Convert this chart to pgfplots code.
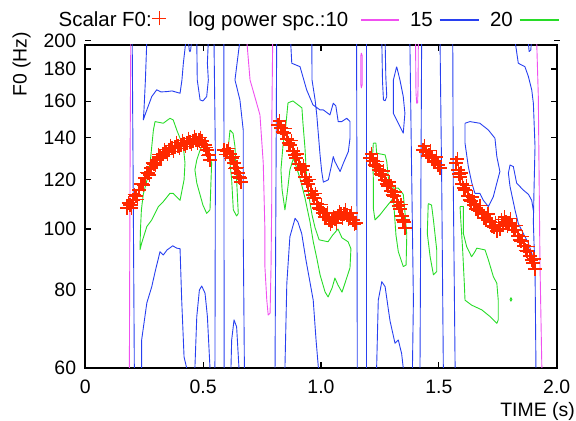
\documentclass[border=0pt]{standalone}
\usepackage{fontspec}
\setmainfont{Liberation Sans}
\usepackage{pgfplots}
\pgfplotsset{compat=1.18}

\definecolor{cmag}{RGB}{240,80,240}
\definecolor{cblue}{RGB}{40,64,240}
\definecolor{cgreen}{RGB}{40,220,40}
\definecolor{fzred}{RGB}{255,40,0}

\pgfplotsset{
  mag/.style={forget plot, cmag, line width=0.9bp, line join=round, mark=none},
  blu/.style={forget plot, cblue, line width=0.9bp, line join=round, mark=none},
  grn/.style={forget plot, cgreen, line width=0.9bp, line join=round, mark=none},
}

\begin{document}
\begin{tikzpicture}
\path[use as bounding box] (-85.3bp,-53bp) rectangle (490.7bp,368bp);
\begin{axis}[
  name=ax, at={(0,0)}, anchor=south west,
  scale only axis, width=471.4bp, height=323bp,
  xmin=0, xmax=2, ymode=log, ymin=60, ymax=196.7,
  xtick={0,0.5,1,1.5,2}, xticklabels={0,0.5,1.0,1.5,2.0},
  ytick={60,80,100,120,140,160,180}, yticklabels={60,80,100,120,140,160,180},
  xminorticks=false, yminorticks=false,
  tick align=inside, major tick length=6bp,
  tick style={black, line width=1.2bp},
  axis line style={line width=1.6bp},
  ticklabel style={font=\fontsize{19.5}{22}\selectfont, inner sep=0pt},
  xticklabel style={yshift=-12bp},
  yticklabel style={xshift=-9bp},
  xlabel={TIME (s)}, ylabel={F0 (Hz)},
  every axis x label/.style={at={(axis description cs:1,0)}, anchor=north east, xshift=18.3bp, yshift=-34bp, inner sep=0pt, font=\fontsize{19.5}{22}\selectfont},
  every axis y label/.style={at={(axis description cs:0,0.839)}, xshift=-58.6bp, rotate=90, anchor=base west, inner sep=0pt, font=\fontsize{19.5}{22}\selectfont},
]

% log power 10
\addplot[mag] coordinates {(0.193,200) (0.190,130) (0.187,60)};
\addplot[mag] coordinates {(0.685,200) (0.699,172.9) (0.727,158.8) (0.741,152.1) (0.755,127.4) (0.762,99.7) (0.762,87.1) (0.770,77.0) (0.776,72.9) (0.784,73.4) (0.788,87.1) (0.791,111.1) (0.791,143.9) (0.795,200)};
\addplot[mag] coordinates {(1.171,191) (1.175,189) (1.175,170) (1.171,168) (1.169,170) (1.169,189) (1.171,191)};
\addplot[mag] coordinates {(1.401,200) (1.403,165) (1.406,158.8) (1.410,159) (1.412,170) (1.413,200)};
\addplot[mag] coordinates {(1.915,200) (1.922,162.7) (1.929,88.2) (1.937,60)};

% log power 15
\addplot[blu] coordinates {(0.199,200) (0.203,120) (0.208,60)};
\addplot[blu] coordinates {(0.261,200) (0.255,172.9) (0.249,154.9) (0.246,149.3) (0.258,153.8) (0.282,162.7) (0.303,166.8) (0.321,165.5) (0.345,165.7) (0.368,166.1) (0.402,164.7) (0.410,172.9) (0.416,183.9) (0.427,200)};
\addplot[blu] coordinates {(0.437,200) (0.441,193) (0.444,191.9) (0.447,193) (0.451,200)};
\addplot[blu] coordinates {(0.473,200) (0.475,172.9) (0.487,160.7) (0.499,160.1) (0.515,162.7) (0.522,172.9) (0.518,183.9) (0.522,200)};
\addplot[blu] coordinates {(0.546,200) (0.552,130) (0.550,60)};
\addplot[blu] coordinates {(0.588,200) (0.589,60)};
\addplot[blu] coordinates {(0.656,200) (0.635,172.9) (0.642,168.8) (0.656,160.7) (0.670,143.9) (0.670,99.7) (0.675,60)};
\addplot[blu] coordinates {(0.618,60) (0.621,66.5) (0.631,71.6) (0.642,69.8) (0.652,60)};
\addplot[blu] coordinates {(0.465,60) (0.473,72.5) (0.484,79.9) (0.494,81.1) (0.508,79.0) (0.518,72.5) (0.529,60)};
\addplot[blu] coordinates {(0.239,60) (0.239,66.5) (0.261,76.2) (0.282,80.9) (0.296,85.4) (0.317,92.0) (0.331,90.9) (0.347,92.6) (0.371,94.0) (0.388,93.2) (0.402,93.0) (0.409,77.0) (0.419,62.5) (0.430,60)};
\addplot[blu] coordinates {(0.812,200) (0.805,60)};
\addplot[blu] coordinates {(0.871,200) (0.876,183.9) (0.911,181.6) (0.939,166.8) (0.966,157.8) (0.996,154.9) (1.010,154.9) (1.038,152.1) (1.052,158.8) (1.063,157.2) (1.073,148.4) (1.088,148.4) (1.109,150.2) (1.123,148.4) (1.123,139.6) (1.116,132.9) (1.095,127.4) (1.081,123.5) (1.059,128.1) (1.052,130.5) (1.045,126.5) (1.031,119.8) (1.010,118.8) (1.003,123.5) (0.996,131.3) (0.989,141.3) (0.982,152.1) (0.975,160.7) (0.962,172.9) (0.961,200)};
\addplot[blu] coordinates {(1.151,200) (1.154,60)};
\addplot[blu] coordinates {(1.194,200) (1.194,60)};
\addplot[blu] coordinates {(0.847,60) (0.855,81.9) (0.868,97.2) (0.890,104.0) (0.902,102.6) (0.918,98.4) (0.936,89.3) (0.967,77.0) (0.979,66.5) (0.989,60)};
\addplot[blu] coordinates {(1.258,200) (1.261,172) (1.265,160.7) (1.272,160.2) (1.279,162.7) (1.275,175) (1.272,200)};
\addplot[blu] coordinates {(1.321,181.6) (1.307,172.9) (1.307,153.0) (1.335,145.7) (1.349,142.2) (1.356,153.0) (1.349,162.7) (1.335,172.9) (1.321,181.6)};
\addplot[blu] coordinates {(1.236,60) (1.243,77.0) (1.258,82.4) (1.272,80.9) (1.286,74.3) (1.293,71.3) (1.314,65.7) (1.328,66.5) (1.342,63.3) (1.349,60)};
\addplot[blu] coordinates {(1.377,200) (1.385,120) (1.392,77) (1.388,60)};
\addplot[blu] coordinates {(1.427,200) (1.420,60)};
\addplot[blu] coordinates {(1.505,200) (1.512,120) (1.519,60)};
\addplot[blu] coordinates {(1.559,200) (1.561,120) (1.569,60)};
\addplot[blu] coordinates {(1.611,147.5) (1.632,148.4) (1.674,147.5) (1.710,143.9) (1.738,139.6) (1.746,130.5) (1.759,123.5) (1.746,118.4) (1.731,112.6) (1.710,108.6) (1.689,111.1) (1.674,114.0) (1.653,114.0) (1.640,118.4) (1.625,125.8) (1.611,137.1) (1.611,147.5)};
\addplot[blu] coordinates {(1.823,200) (1.837,183.9) (1.865,181.6) (1.880,175.1) (1.894,166.8) (1.901,158.8) (1.908,135.4) (1.904,116.7) (1.901,102.6) (1.904,94.3) (1.908,87.0) (1.912,60)};
\addplot[blu] coordinates {(1.901,107) (1.894,111.1) (1.880,113.6) (1.858,115.4) (1.830,118.4) (1.816,125.8) (1.802,126.5) (1.795,122.8) (1.802,116.9) (1.823,107.3) (1.837,102.1) (1.858,98.4) (1.880,94.9) (1.894,91.5) (1.905,88.6)};
\addplot[blu] coordinates {(1.879,200) (1.883,192) (1.890,193) (1.893,200)};

% log power 20
\addplot[grn] coordinates {(0.232,92.6) (0.234,99.7) (0.238,107.3) (0.246,113.6) (0.262,119.8) (0.275,127.4) (0.289,143.9) (0.296,148.4) (0.331,147.5) (0.359,150.2) (0.373,149.3) (0.388,143.9) (0.416,135.4) (0.423,127.4) (0.419,119.8) (0.402,111.1) (0.373,114.0) (0.359,114.0) (0.331,110.6) (0.310,108.6) (0.282,103.4) (0.261,100.9) (0.239,94.9) (0.232,92.6)};
\addplot[grn] coordinates {(0.508,138.7) (0.536,127.4) (0.529,107.3) (0.515,105.9) (0.499,109.2) (0.473,118.4) (0.465,124.3) (0.473,128.9) (0.487,133.7) (0.508,138.7)};
\addplot[grn] coordinates {(0.614,143.9) (0.627,142.1) (0.635,135.4) (0.642,119.8) (0.649,105.9) (0.642,104.9) (0.628,107.3) (0.621,119.8) (0.607,135.4) (0.614,143.9)};
\addplot[grn] coordinates {(0.860,159.0) (0.881,160.1) (0.919,156.1) (0.923,148.2) (0.932,134.7) (0.939,120.6) (0.949,112.5) (0.962,105.3) (0.975,100.4) (0.992,96.1) (1.030,95.4) (1.047,97.5) (1.072,100.0) (1.089,96.8) (1.115,95.4) (1.127,93.0) (1.123,86.7) (1.102,82.0) (1.089,79.3) (1.072,81.4) (1.059,83.5) (1.047,80.5) (1.030,77.9) (1.017,79.4) (0.996,84.5) (0.982,89.9) (0.967,95.5) (0.953,102.8) (0.932,112.1) (0.911,120.5) (0.883,129.7) (0.868,124.3) (0.856,113.6) (0.847,107.3) (0.835,115.4) (0.830,124.3) (0.839,136.2) (0.851,146.6) (0.860,159.0)};
\addplot[grn] coordinates {(1.222,137.1) (1.233,137.1) (1.236,132.1) (1.272,131.3) (1.279,128.1) (1.286,120.5) (1.307,116.2) (1.328,116.2) (1.349,113.6) (1.356,106.6) (1.364,97.8) (1.361,87.6) (1.349,87.1) (1.328,92.0) (1.318,97.8) (1.314,102.8) (1.307,112.0) (1.272,107.9) (1.250,105.3) (1.229,103.4) (1.222,107.9) (1.222,120.5) (1.219,131.3) (1.222,137.1)};
\addplot[grn] coordinates {(1.455,109.8) (1.469,109.2) (1.477,103.4) (1.491,92.6) (1.491,85.5) (1.477,84.5) (1.463,90.3) (1.451,98.4) (1.455,109.8)};
\addplot[grn] coordinates {(1.590,108.6) (1.604,108.6) (1.604,98.4) (1.618,93.7) (1.639,90.3) (1.653,92.0) (1.661,93.2) (1.696,92.6) (1.710,89.3) (1.731,84.0) (1.746,81.9) (1.752,77.0) (1.752,71.6) (1.746,70.7) (1.717,72.5) (1.682,74.3) (1.639,75.6) (1.611,77.0) (1.608,81.9) (1.601,92.6) (1.593,103.4) (1.590,108.6)};
\addplot[grn] coordinates {(1.802,77.2) (1.806,77.7) (1.810,77.2) (1.806,76.7) (1.802,77.2)};

% scalar F0
\addplot[forget plot, only marks, mark=+, mark size=6.8bp, fzred, mark options={line width=1.3bp}] coordinates {
(0.177,108.05) (0.183,110.0) (0.190,109.25) (0.196,108.0) (0.202,111.28) (0.208,113.5)
(0.215,112.93) (0.221,111.5) (0.228,115.45) (0.234,118.0) (0.241,118.02) (0.247,117.5)
(0.253,120.65) (0.259,123.0) (0.266,122.89) (0.272,122.0) (0.279,125.17) (0.285,127.5)
(0.291,127.03) (0.297,126.5) (0.304,128.91) (0.310,131.5) (0.317,130.34) (0.323,129.5)
(0.330,131.78) (0.336,134.0) (0.342,132.75) (0.348,131.5) (0.355,133.74) (0.361,136.0)
(0.368,134.72) (0.374,133.0) (0.381,135.23) (0.387,137.5) (0.393,135.72) (0.399,134.5)
(0.406,136.22) (0.412,138.5) (0.419,136.72) (0.425,135.5) (0.431,137.23) (0.437,139.5)
(0.444,137.73) (0.450,136.5) (0.457,138.23) (0.463,140.5) (0.470,138.75) (0.476,137.0)
(0.482,138.75) (0.488,140.0) (0.495,138.23) (0.501,136.0) (0.508,136.22) (0.512,135.0)
(0.516,133.74) (0.520,131.0) (0.525,131.30) (0.529,128.91)
(0.589,133.74) (0.595,131.5) (0.601,133.24) (0.607,134.5) (0.614,131.78) (0.618,129.5)
(0.622,129.86) (0.627,130.5) (0.631,127.5) (0.635,125.0) (0.639,125.17) (0.644,125.5)
(0.648,122.89) (0.652,121.0) (0.656,120.65) (0.661,118.89)
(0.818,146.61) (0.824,148.8) (0.830,145.00) (0.836,142.8) (0.843,142.36) (0.849,144.5)
(0.856,139.26) (0.862,137.2) (0.868,136.22) (0.874,138.3) (0.881,133.24) (0.887,131.2)
(0.894,129.86) (0.900,131.8) (0.907,127.03) (0.913,125.1) (0.919,124.26) (0.925,126.1)
(0.932,121.10) (0.938,119.3) (0.945,118.02) (0.951,119.8) (0.958,115.02) (0.964,113.3)
(0.970,112.10) (0.976,113.8) (0.983,109.66) (0.989,108.0) (0.996,107.65) (1.002,109.3)
(1.009,106.08) (1.015,104.5) (1.021,104.54) (1.027,106.1) (1.034,103.39) (1.040,101.8)
(1.047,103.0) (1.053,104.6) (1.059,103.77) (1.065,102.2) (1.072,104.92) (1.078,106.5)
(1.085,105.69) (1.091,104.1) (1.097,105.69) (1.103,107.3) (1.110,105.31) (1.116,103.7)
(1.123,104.54) (1.129,106.1) (1.136,103.39) (1.142,101.8) (1.148,102.26)
(1.208,129.86) (1.214,131.8) (1.221,128.43) (1.227,126.5) (1.233,126.09) (1.239,128.0)
(1.246,124.26) (1.252,122.4) (1.259,121.99) (1.265,123.8) (1.272,119.77) (1.278,118.0)
(1.284,117.15) (1.290,118.9) (1.297,115.02) (1.303,113.3) (1.310,112.93) (1.316,114.6)
(1.322,110.46) (1.328,108.8) (1.335,107.65) (1.340,109.3) (1.344,104.92) (1.348,103.4)
(1.352,102.63) (1.356,100.39)
(1.433,133.74) (1.439,135.7) (1.446,132.75) (1.452,130.8) (1.458,131.30) (1.464,133.3)
(1.471,129.86) (1.477,127.9) (1.484,128.43) (1.490,130.3) (1.497,126.56) (1.505,125.17)
(1.573,127.50) (1.578,129.4) (1.582,124.26) (1.586,122.4) (1.590,121.10) (1.594,122.9)
(1.599,118.02) (1.605,116.3) (1.611,115.45) (1.617,117.2) (1.624,112.93) (1.630,111.2)
(1.636,110.87) (1.642,112.5) (1.649,109.25) (1.657,107.6) (1.666,107.26) (1.674,108.9)
(1.683,105.69) (1.691,104.1) (1.700,104.15) (1.708,105.7) (1.717,102.63) (1.725,101.1)
(1.734,100.76) (1.740,102.3) (1.747,99.30) (1.753,101.5) (1.759,100.02) (1.765,103.5)
(1.772,101.52) (1.778,104.5) (1.785,102.63) (1.791,101.0) (1.798,102.26) (1.804,103.8)
(1.810,101.15) (1.816,99.6) (1.823,99.66) (1.829,101.2) (1.836,97.48) (1.842,96.0)
(1.849,95.73) (1.855,97.2) (1.861,93.96) (1.867,92.5) (1.874,92.27) (1.880,93.7)
(1.887,90.57) (1.893,89.2) (1.900,88.26) (1.904,89.6) (1.908,86.34)
};
\end{axis}
% the 200 tick lies above the top of the frame
\draw[line width=1.2bp] ([yshift=4.5bp]ax.north west) -- ++(5.5bp,0);
\draw[line width=1.2bp] ([xshift=3bp,yshift=4.5bp]ax.north east) -- ++(-6bp,0);
\node[anchor=east, inner sep=0pt, font=\fontsize{19.5}{22}\selectfont] at ([xshift=-9bp,yshift=4.5bp]ax.north west) {200};
% key row above the frame
\begin{scope}[shift={(ax.north west)}, every node/.style={anchor=base west, inner sep=0pt, font=\fontsize{20.5}{24}\selectfont}]
\node at (-26.8bp,18.3bp) {Scalar F0:};
\draw[fzred, line width=1.4bp] (67bp,26.7bp) -- (81bp,26.7bp) (74bp,19.7bp) -- (74bp,33.7bp);
\node at (102.8bp,18.3bp) {log power spc.:10};
\draw[cmag, line width=1.1bp] (276.1bp,25bp) -- (313.4bp,25bp);
\node at (324.5bp,18.3bp) {15};
\draw[cblue, line width=1.1bp] (354.3bp,25bp) -- (393.5bp,25bp);
\node at (404.6bp,18.3bp) {20};
\draw[cgreen, line width=1.1bp] (434.4bp,25bp) -- (473.6bp,25bp);
\end{scope}
\end{tikzpicture}
\end{document}
